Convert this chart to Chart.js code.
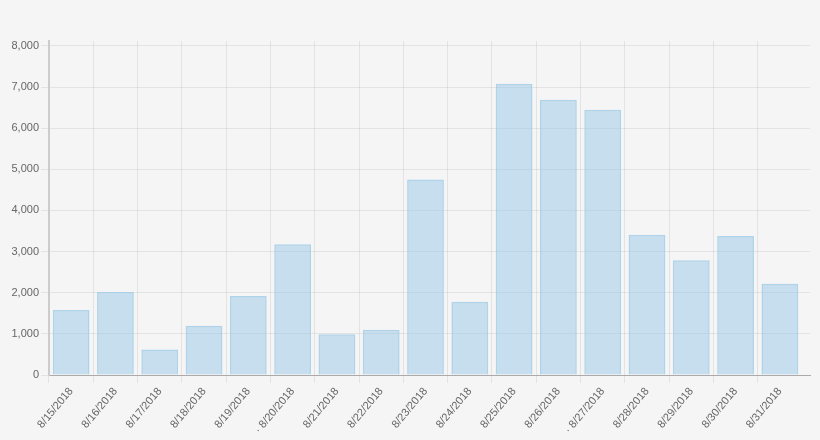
<!DOCTYPE html>
<html>
<head>
<meta charset="utf-8">
<script src="https://cdn.jsdelivr.net/npm/chart.js@4.4.0/dist/chart.umd.min.js"></script>
<style>
  html, body { margin: 0; padding: 0; background: #f5f5f5; }
  #wrap { width: 820px; height: 440px; }
</style>
</head>
<body>
<div id="wrap"><canvas id="visits" width="820" height="440"></canvas></div>
<script>
// days shown along the bottom (two of them carry a leading dot in the original)
var days = ["8/15/2018", "8/16/2018", "8/17/2018", "8/18/2018", "8/19/2018", "· 8/20/2018",
  "8/21/2018", "8/22/2018", "8/23/2018", "8/24/2018", "8/25/2018", "8/26/2018",
  "· 8/27/2018", "8/28/2018", "8/29/2018", "8/30/2018", "8/31/2018"];
var counts = [1580, 2020, 620, 1200, 1920, 3180, 990, 1100, 4750, 1780, 7080, 6690, 6450, 3410, 2790, 3380, 2220];
var yTicks = [0, 1000, 2000, 3000, 4000, 5000, 6000, 7000, 8000];

Chart.defaults.font.family = "'Liberation Sans', Arial, sans-serif";
Chart.defaults.color = "#666";

var ctx = document.getElementById("visits").getContext('2d');
var myChart = new Chart(ctx, {
  type: 'bar',
  data: {
    labels: days,
    datasets: [{
      data: counts,
      backgroundColor: "rgba(151,199,230,0.5)",
      borderColor: "rgba(151,199,230,0.75)",
      borderWidth: 1.5,
      categoryPercentage: 0.83,
      barPercentage: 1
    }]
  },
  options: {
    responsive: false,
    animation: false,
    layout: { padding: { top: 41, right: 10, left: 0, bottom: 0 } },
    plugins: {
      legend: { display: false },
      tooltip: { enabled: false }
    },
    scales: {
      x: {
        grid: {
          offset: true,
          tickLength: 8,
          color: function (c) { return c.type === 'tick' ? 'rgba(0,0,0,0.07)' : 'transparent'; }
        },
        border: { color: '#aaa', width: 1 },
        ticks: { font: { size: 11 }, minRotation: 50, maxRotation: 50, autoSkip: false, padding: 2 },
        // the original leaves a little empty room after the last day
        afterBuildTicks: function (s) { s._valueRange = days.length + 0.18; },
        afterFit: function (s) { s.height = 65; }
      },
      y: {
        min: 0,
        max: 8120,
        grid: { color: 'rgba(0,0,0,0.07)', tickLength: 8 },
        border: { color: '#ccc', width: 2 },
        ticks: {
          font: { size: 11 },
          padding: 2,
          callback: function (v) { return v.toLocaleString('en-US'); }
        },
        afterBuildTicks: function (s) {
          s.ticks = yTicks.map(function (v) { return { value: v }; });
        },
        afterFit: function (s) { s.width = 49; }
      }
    }
  }
});
</script>
</body>
</html>
